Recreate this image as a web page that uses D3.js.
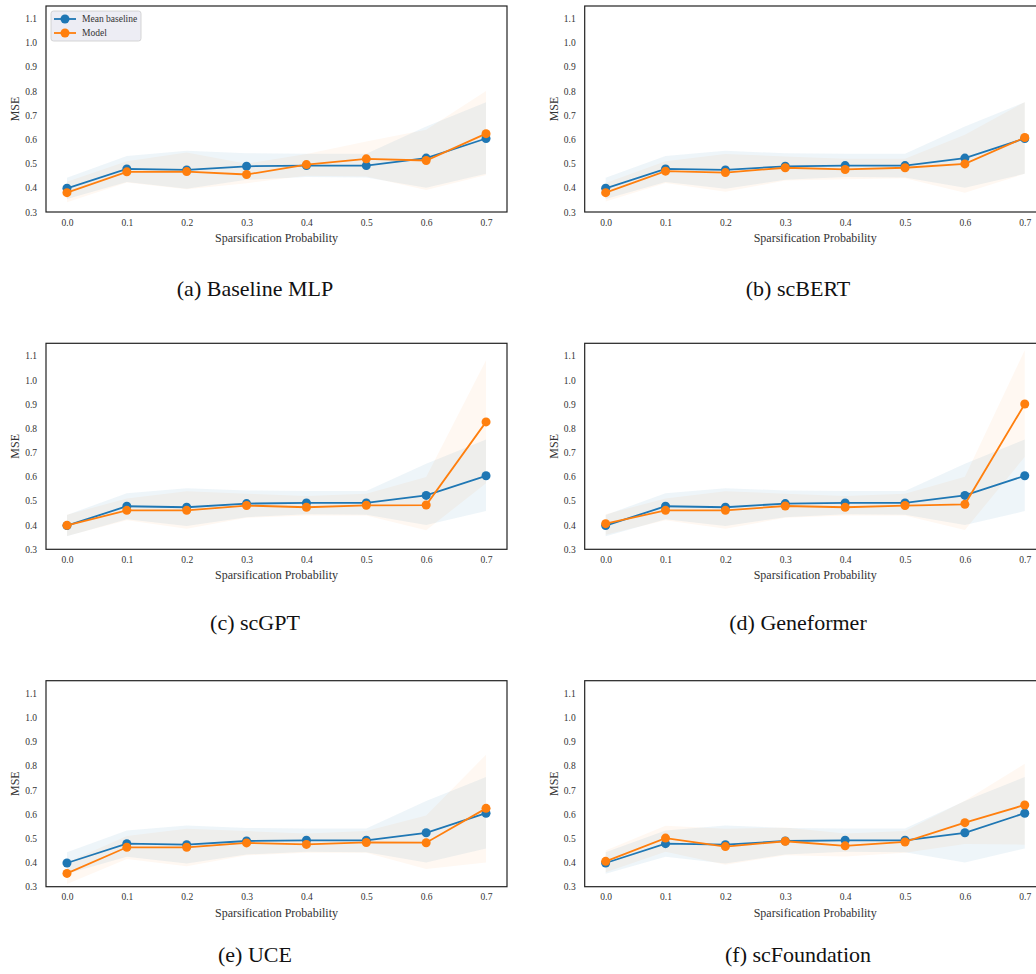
<!DOCTYPE html>
<html>
<head>
<meta charset="utf-8">
<script src="https://cdn.jsdelivr.net/npm/d3@7"></script>
<style>
  html, body { margin: 0; padding: 0; background: #ffffff; }
  svg { display: block; }
</style>
</head>
<body>
<svg id="chart" width="1036" height="974"></svg>
<script>
// ---------------- DATA ----------------
const probs = [0.0, 0.1, 0.2, 0.3, 0.4, 0.5, 0.6, 0.7];
const xTicks = [0.0, 0.1, 0.2, 0.3, 0.4, 0.5, 0.6, 0.7];
const yTicks = [0.3, 0.4, 0.5, 0.6, 0.7, 0.8, 0.9, 1.0, 1.1];
const seriesNames = ["Mean baseline", "Model"];

// Mean baseline (identical in every panel)
const baseMean  = [0.398, 0.478, 0.474, 0.489, 0.492, 0.492, 0.523, 0.604];
const baseUpper = [0.442, 0.532, 0.553, 0.543, 0.541, 0.541, 0.654, 0.754];
const baseLower = [0.354, 0.424, 0.396, 0.433, 0.445, 0.443, 0.400, 0.458];

const captions = ["(a) Baseline MLP", "(b) scBERT", "(c) scGPT", "(d) Geneformer", "(e) UCE", "(f) scFoundation"];

const mlpMean   = [0.380, 0.466, 0.467, 0.455, 0.496, 0.520, 0.513, 0.624];
const mlpUpper  = [0.425, 0.510, 0.546, 0.500, 0.540, 0.592, 0.640, 0.800];
const mlpLower  = [0.340, 0.422, 0.394, 0.419, 0.450, 0.447, 0.391, 0.453];

const bertMean  = [0.380, 0.469, 0.463, 0.483, 0.476, 0.483, 0.499, 0.608];
const bertUpper = [0.420, 0.510, 0.540, 0.530, 0.520, 0.520, 0.620, 0.755];
const bertLower = [0.343, 0.420, 0.384, 0.430, 0.435, 0.440, 0.380, 0.458];

const gptMean   = [0.399, 0.461, 0.461, 0.481, 0.474, 0.482, 0.483, 0.827];
const gptUpper  = [0.443, 0.510, 0.540, 0.530, 0.520, 0.530, 0.599, 1.082];
const gptLower  = [0.355, 0.420, 0.385, 0.430, 0.440, 0.440, 0.379, 0.573];

const gfMean    = [0.406, 0.461, 0.461, 0.479, 0.474, 0.481, 0.486, 0.901];
const gfUpper   = [0.445, 0.510, 0.540, 0.530, 0.520, 0.530, 0.600, 1.123];
const gfLower   = [0.360, 0.420, 0.385, 0.430, 0.440, 0.440, 0.380, 0.682];

const uceMean   = [0.355, 0.463, 0.463, 0.481, 0.475, 0.483, 0.482, 0.624];
const uceUpper  = [0.400, 0.510, 0.540, 0.530, 0.520, 0.530, 0.594, 0.846];
const uceLower  = [0.311, 0.415, 0.385, 0.430, 0.440, 0.440, 0.373, 0.400];

const sfMean    = [0.405, 0.501, 0.466, 0.488, 0.469, 0.485, 0.565, 0.638];
const sfUpper   = [0.450, 0.552, 0.540, 0.545, 0.520, 0.530, 0.656, 0.808];
const sfLower   = [0.360, 0.445, 0.391, 0.430, 0.425, 0.440, 0.477, 0.474];

const modelMeans  = [mlpMean, bertMean, gptMean, gfMean, uceMean, sfMean];
const modelUppers = [mlpUpper, bertUpper, gptUpper, gfUpper, uceUpper, sfUpper];
const modelLowers = [mlpLower, bertLower, gptLower, gfLower, uceLower, sfLower];

// ---------------- LAYOUT ----------------
const colLeft = [46, 584.7];
const rowTop = [6, 343.3, 680.7];
const captionCenter = [255, 798];
const captionBaseline = [296, 630, 962];
const PW = 461, PH = 206;
const blue = "#1f77b4", orange = "#ff7f0e";
const serif = "'Liberation Serif', 'Times New Roman', 'DejaVu Serif', serif";
const textColor = "#333333";

const svg = d3.select("#chart");

const x = d3.scaleLinear().domain([-0.035, 0.735]).range([0, PW]);
const y = d3.scaleLinear().domain([0.3, 1.152]).range([PH, 0]);

const line = d3.line().x((d, i) => x(probs[i])).y(d => y(d));
const area = (up, lo) => d3.area()
  .x((d, i) => x(probs[i]))
  .y0((d, i) => y(lo[i]))
  .y1((d, i) => y(up[i]))(probs);

captions.forEach((cap, k) => {
  const col = k % 2, row = Math.floor(k / 2);
  const g = svg.append("g").attr("transform", `translate(${colLeft[col]},${rowTop[row]})`);

  const clipId = "clip" + k;
  g.append("clipPath").attr("id", clipId)
    .append("rect").attr("width", PW).attr("height", PH);

  const plot = g.append("g").attr("clip-path", `url(#${clipId})`);

  // bands
  plot.append("path").attr("d", area(baseUpper, baseLower))
    .attr("fill", blue).attr("fill-opacity", 0.075);
  plot.append("path").attr("d", area(modelUppers[k], modelLowers[k]))
    .attr("fill", orange).attr("fill-opacity", 0.055);

  // series
  const series = [
    { vals: baseMean, color: blue },
    { vals: modelMeans[k], color: orange }
  ];
  series.forEach(s => {
    plot.append("path").datum(s.vals).attr("d", line)
      .attr("fill", "none").attr("stroke", s.color).attr("stroke-width", 1.8);
    plot.selectAll(null).data(s.vals).enter().append("circle")
      .attr("cx", (d, i) => x(probs[i])).attr("cy", d => y(d))
      .attr("r", 4.5).attr("fill", s.color);
  });

  // axes (tick labels only, no tick marks)
  const xAxis = d3.axisBottom(x).tickValues(xTicks).tickFormat(d3.format(".1f"))
    .tickSize(0).tickPadding(7);
  const yAxis = d3.axisLeft(y).tickValues(yTicks).tickFormat(d3.format(".1f"))
    .tickSize(0).tickPadding(9);
  const gx = g.append("g").attr("transform", `translate(0,${PH})`).call(xAxis);
  const gy = g.append("g").call(yAxis);
  [gx, gy].forEach(a => {
    a.select(".domain").remove();
    a.selectAll("text").attr("font-family", serif).attr("font-size", 9.5).attr("fill", textColor);
  });

  // frame
  g.append("rect").attr("width", PW).attr("height", PH)
    .attr("fill", "none").attr("stroke", "#222").attr("stroke-width", 1.2);

  // axis labels
  g.append("text").attr("x", PW / 2).attr("y", PH + 30)
    .attr("text-anchor", "middle").attr("font-family", serif).attr("font-size", 12)
    .attr("fill", textColor).text("Sparsification Probability");
  g.append("text").attr("transform", `translate(-27,${PH / 2}) rotate(-90)`)
    .attr("text-anchor", "middle").attr("font-family", serif).attr("font-size", 12)
    .attr("fill", textColor).text("MSE");

  // legend only in first panel
  if (k === 0) {
    const lg = g.append("g").attr("transform", "translate(5,5)");
    lg.append("rect").attr("width", 90).attr("height", 30).attr("rx", 2.5)
      .attr("fill", "#eaeaf2").attr("fill-opacity", 0.85)
      .attr("stroke", "#cccccc").attr("stroke-width", 0.8);
    [blue, orange].forEach((c, i) => {
      const yy = 8 + i * 14;
      lg.append("line").attr("x1", 3).attr("x2", 25).attr("y1", yy).attr("y2", yy)
        .attr("stroke", c).attr("stroke-width", 1.8);
      lg.append("circle").attr("cx", 14).attr("cy", yy).attr("r", 4.5).attr("fill", c);
      lg.append("text").attr("x", 31).attr("y", yy + 3.3)
        .attr("font-family", serif).attr("font-size", 9.5).attr("fill", textColor)
        .text(seriesNames[i]);
    });
  }

  // caption
  svg.append("text").attr("x", captionCenter[col]).attr("y", captionBaseline[row])
    .attr("text-anchor", "middle").attr("font-family", serif).attr("font-size", 22)
    .attr("fill", "#111").text(cap);
});
</script>
</body>
</html>
